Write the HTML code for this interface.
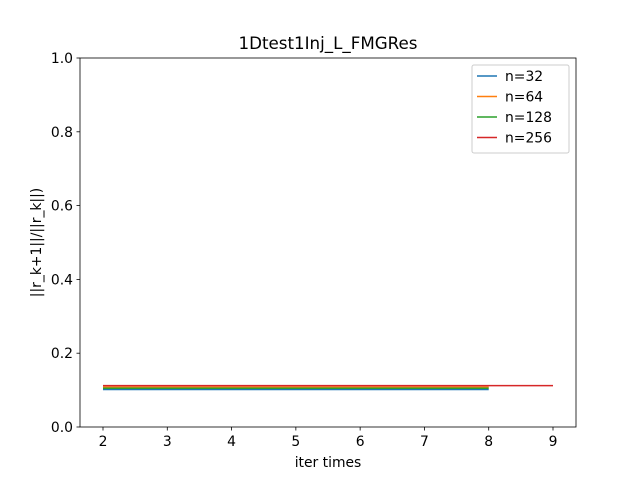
<!DOCTYPE html>
<html><head><style>body{margin:0;background:#fff}text{font-family:"DejaVu Sans","Liberation Sans",sans-serif}</style></head>
<body>
<svg id="chart" width="640" height="480" xmlns="http://www.w3.org/2000/svg">
<rect width="640" height="480" fill="#fff"/>
<text x="328" y="49" font-size="16.7" text-anchor="middle">1Dtest1Inj_L_FMGRes</text>
<g id="ticks"></g>
<g id="lines"></g>
<rect x="80" y="58" width="496" height="369" fill="none" stroke="#000" stroke-width="0.8"/>
<text x="328" y="467" font-size="13.9" text-anchor="middle">iter times</text>
<text transform="translate(41,242.5) rotate(-90)" font-size="13.9" text-anchor="middle">||r_k+1||/||r_k||)</text>
<g>
<rect x="472" y="65" width="97" height="88" rx="2" fill="#fff" stroke="#ccc" stroke-width="1"/>
<g id="legend-items"></g>
</g>
</svg>
<script>
const seriesNames = ["n=32","n=64","n=128","n=256"];
const seriesColors = ["#1f77b4","#ff7f0e","#2ca02c","#d62728"];
const seriesX = [[2,3,4,5,6,7,8],[2,3,4,5,6,7,8],[2,3,4,5,6,7,8],[2,3,4,5,6,7,8,9]];
const seriesY = [[0.1015,0.1015,0.1015,0.1015,0.1015,0.1015,0.1015],[0.108,0.108,0.108,0.108,0.108,0.108,0.108],[0.105,0.105,0.105,0.105,0.105,0.105,0.105],[0.112,0.112,0.112,0.112,0.112,0.112,0.112,0.112]];
const xTicks = [2,3,4,5,6,7,8,9];
const yTicks = [0,0.2,0.4,0.6,0.8,1.0];
const NS="http://www.w3.org/2000/svg";
const xs = v => 103 + (v-2)*(553-103)/7;
const ys = v => 427 - v*369;
const tg=document.getElementById('ticks');
function el(t,a,p){const e=document.createElementNS(NS,t);for(const k in a)e.setAttribute(k,a[k]);p.appendChild(e);return e;}
xTicks.forEach(t=>{
  const l=el('line',{x1:xs(t),x2:xs(t),y1:427,y2:430.5,stroke:'#000','stroke-width':0.8},tg);
  
  
  const tx=el('text',{x:xs(t),y:446,'font-size':13.9,'text-anchor':'middle'},tg);tx.textContent=t;
  
  
});
yTicks.forEach(t=>{
  const l=el('line',{x1:76.5,x2:80,y1:ys(t),y2:ys(t),stroke:'#000','stroke-width':0.8},tg);
  
  
  const tx=el('text',{x:73,y:ys(t)+5,'font-size':13.9,'text-anchor':'end'},tg);tx.textContent=t.toFixed(1);
  
  
});
const lg=document.getElementById('lines'), leg=document.getElementById('legend-items');
seriesNames.forEach((n,i)=>{
  const p=el('polyline',{points:seriesX[i].map((x,j)=>xs(x)+','+ys(seriesY[i][j])).join(' '),fill:'none',stroke:seriesColors[i],'stroke-width':1.5},lg);
  
  
  const y=76+i*20.5;
  const ll=el('line',{x1:477,x2:497,y1:y,y2:y,stroke:seriesColors[i],'stroke-width':1.5},leg);
  
  
  const t=el('text',{x:505,y:y+5,'font-size':13.9},leg);t.textContent=n;
  
  
});
</script>
</body></html>
